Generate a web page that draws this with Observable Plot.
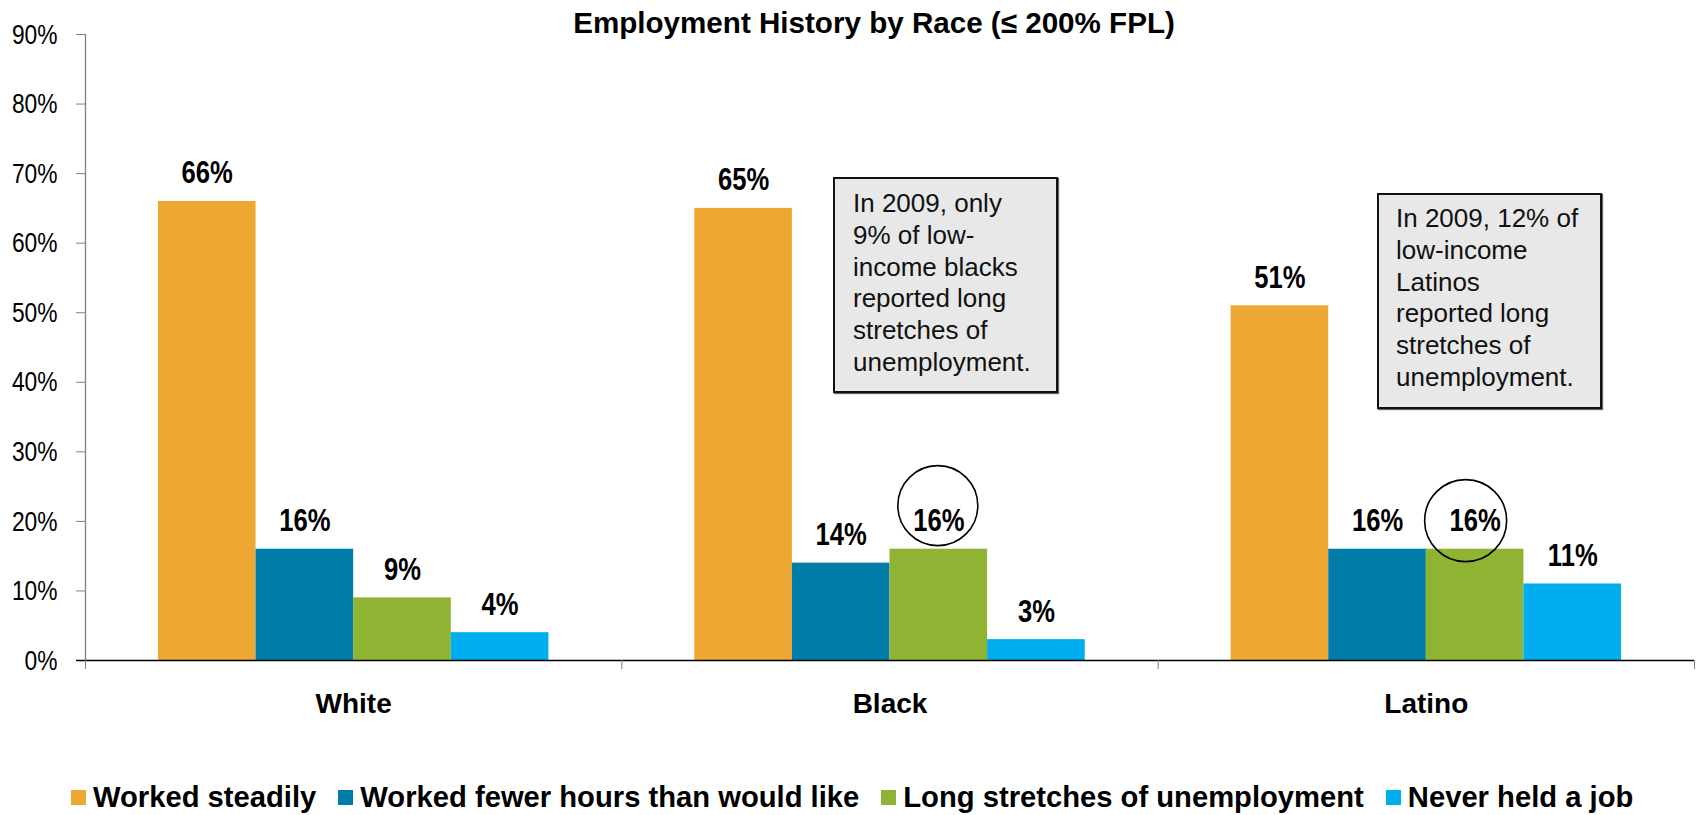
<!DOCTYPE html>
<html>
<head>
<meta charset="utf-8">
<script src="https://cdn.jsdelivr.net/npm/d3@7"></script>
<script src="https://cdn.jsdelivr.net/npm/@observablehq/plot@0.6"></script>
<style>
  html, body { margin: 0; padding: 0; background: #fff; }
  #wrap { position: relative; width: 1699px; height: 815px; overflow: hidden;
          font-family: "Liberation Sans", Arial, sans-serif; color: #000; }
  #chart { position: absolute; left: 0; top: 0; }
  #title { position: absolute; top: 8px; left: 874px; transform: translateX(-50%);
           white-space: nowrap; font-weight: bold; font-size: 29.6px; line-height: 29px; }
  .note { position: absolute; box-sizing: border-box; width: 225px; height: 216px;
          background: #e8e8e8; border: 2px solid #111; box-shadow: 1px 1px 1px rgba(0,0,0,.6);
          font-size: 26px; line-height: 31.8px; color: #111; white-space: nowrap; }
  #legend { position: absolute; top: 783px; left: 71px; display: flex; align-items: center;
            white-space: nowrap; font-weight: bold; font-size: 29.2px; line-height: 28px; }
  #legend .item { display: flex; align-items: center; margin-right: 22px; }
  #legend .sw { width: 15px; height: 15px; margin-right: 7px; flex: none; }
</style>
</head>
<body>
<div id="wrap">
  <div id="chart"></div>
  <div id="title"></div>
  <div id="legend"></div>
</div>
<script>
// ---- data ----
const races = ["White", "Black", "Latino"];
const seriesNames = [
  "Worked steadily",
  "Worked fewer hours than would like",
  "Long stretches of unemployment",
  "Never held a job"
];
const workedSteadily = [66, 65, 51];
const fewerHours = [16, 14, 16];
const longUnemployment = [9, 16, 16];
const neverHeldJob = [4, 3, 11];
const yTicks = [0, 10, 20, 30, 40, 50, 60, 70, 80, 90];
const seriesColors = ["#EEA733", "#007CA9", "#8FB332", "#00AEEF"];
const titleText = "Employment History by Race (\u2264 200% FPL)";
const blackNote = ["In 2009, only", "9% of low-", "income blacks", "reported long", "stretches of", "unemployment."];
const latinoNote = ["In 2009, 12% of", "low-income", "Latinos", "reported long", "stretches of", "unemployment."];
const circledRaces = ["Black", "Latino"];
const circledSeries = "Long stretches of unemployment";

// ---- layout ----
const seriesValues = [workedSteadily, fewerHours, longUnemployment, neverHeldJob];
const barW = 0.182;
const groupPad = (1 - seriesNames.length * barW) / 2;
const rows = races.flatMap((race, i) => seriesNames.map((s, j) => ({
  race, series: s, value: seriesValues[j][i],
  x1: i + groupPad + j * barW, x2: i + groupPad + (j + 1) * barW
})));
const rowOf = (race, series) => rows.find(d => d.race === race && d.series === series);
const circleBlack = [rowOf(circledRaces[0], circledSeries)];
const circleLatino = [rowOf(circledRaces[1], circledSeries)];

// a marker family name ("Arimo" is not installed) lets us find the condensed labels
const narrowTick = "'Liberation Sans', Arimo, Arial, sans-serif";
const narrowValue = "'Liberation Sans', Arimo, Helvetica, sans-serif";

const chart = Plot.plot({
  width: 1699, height: 745,
  marginLeft: 85, marginRight: 5, marginTop: 34, marginBottom: 85,
  style: { fontFamily: "'Liberation Sans', Arial, sans-serif", background: "transparent", color: "#000" },
  x: { domain: [0, races.length], axis: null, label: null },
  y: { domain: [0, 90], axis: null, label: null },
  color: { domain: seriesNames, range: seriesColors },
  marks: [
    Plot.rectY(rows, { x1: "x1", x2: "x2", y: "value", fill: "series" }),
    Plot.ruleX([0], { stroke: "#808080", strokeWidth: 1.3 }),
    Plot.axisY(yTicks, {
      tickSize: 9, tickPadding: 19, tickFormat: d => d + "%", label: null,
      stroke: "#808080", fill: "#000", fontSize: 28.5, fontFamily: narrowTick
    }),
    Plot.ruleY([0], { stroke: "#000", strokeWidth: 1.5, insetLeft: -9 }),
    Plot.axisX(d3.range(races.length + 1), {
      tickSize: 9, tickFormat: () => "", label: null, stroke: "#808080"
    }),
    Plot.axisX(races.map((r, i) => i + 0.5), {
      tickSize: 0, tickPadding: 33, tickFormat: d => races[Math.floor(d)], label: null,
      fill: "#000", fontSize: 28, fontWeight: "bold"
    }),
    Plot.text(rows, {
      x: d => (d.x1 + d.x2) / 2, y: "value", text: d => d.value + "%",
      lineAnchor: "bottom", dy: -18, fontSize: 30.5, fontWeight: "bold",
      fontFamily: narrowValue, fill: "#000"
    }),
    Plot.dot(circleBlack, {
      x: d => (d.x1 + d.x2) / 2, y: "value", r: 40, dx: -1, dy: -43.6,
      stroke: "#000", strokeWidth: 1.6, fill: "none"
    }),
    Plot.dot(circleLatino, {
      x: d => (d.x1 + d.x2) / 2, y: "value", r: 41, dx: -9.5, dy: -28.6,
      stroke: "#000", strokeWidth: 1.6, fill: "none"
    })
  ]
});
document.getElementById("chart").appendChild(chart);

// condense the tick and value labels horizontally (Arial Narrow look)
function condense(selector, k) {
  d3.select(chart).selectAll(selector).each(function () {
    const t = this.getAttribute("transform");
    if (t) {
      this.setAttribute("transform", t + ` scale(${k},1)`);
    } else {
      const x = +this.getAttribute("x") || 0;
      this.setAttribute("transform", `translate(${x},0) scale(${k},1) translate(${-x},0)`);
    }
  });
}
condense('[font-family*="Arimo, Arial"] text', 0.8);
condense('[font-family*="Arimo, Helvetica"] text', 0.84);

document.getElementById("title").textContent = titleText;

function addNote(lines, left, top, padLeft, padTop) {
  const div = document.createElement("div");
  div.className = "note";
  div.style.left = left + "px";
  div.style.top = top + "px";
  div.style.paddingLeft = padLeft + "px";
  div.style.paddingTop = padTop + "px";
  lines.forEach((l, i) => {
    if (i) div.appendChild(document.createElement("br"));
    div.appendChild(document.createTextNode(l));
  });
  document.getElementById("wrap").appendChild(div);
}
addNote(blackNote, 833, 177, 18, 9);
addNote(latinoNote, 1377, 193, 17, 8);

const legend = document.getElementById("legend");
seriesNames.forEach((name, i) => {
  const item = document.createElement("div");
  item.className = "item";
  const sw = document.createElement("span");
  sw.className = "sw";
  sw.style.background = seriesColors[i];
  const label = document.createElement("span");
  label.textContent = name;
  item.appendChild(sw);
  item.appendChild(label);
  legend.appendChild(item);
});
</script>
</body>
</html>
